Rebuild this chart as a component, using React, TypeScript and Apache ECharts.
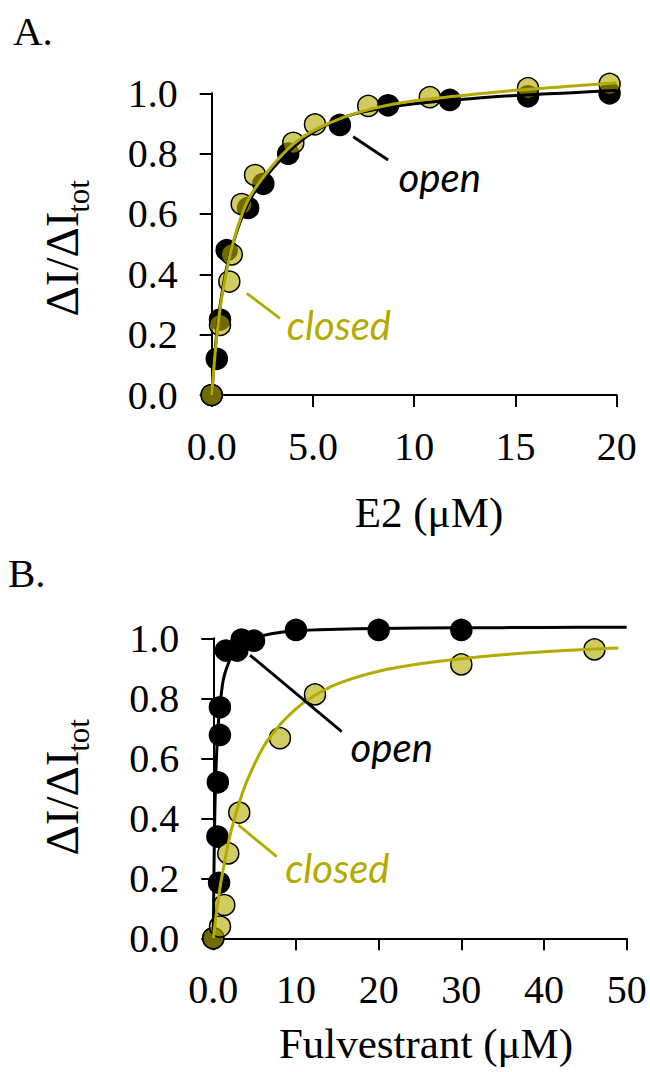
import React, { useEffect, useRef } from "react";
import * as echarts from "echarts";

// ---- Panel A: E2 ----
const e2OpenX = [0, 0.25, 0.41, 0.74, 1.8, 2.55, 3.78, 6.33, 8.71, 11.76, 15.62, 19.65];
const e2OpenY = [0, 0.12, 0.25, 0.48, 0.62, 0.7, 0.8, 0.895, 0.96, 0.978, 0.99, 1.0];
const e2ClosedX = [0, 0.41, 0.87, 0.99, 1.48, 2.14, 4.03, 5.1, 7.73, 10.77, 15.62, 19.65];
const e2ClosedY = [0, 0.232, 0.376, 0.466, 0.633, 0.729, 0.836, 0.897, 0.958, 0.987, 1.017, 1.031];
// fitted curves
const e2FitX = [0, 0.2, 0.4, 0.7, 1, 1.5, 2, 3, 4, 5, 6.5, 8, 10, 12, 15, 18, 20];
const e2OpenFitY = [0, 0.17, 0.29, 0.41, 0.49, 0.59, 0.66, 0.75, 0.82, 0.87, 0.92, 0.945, 0.965, 0.978, 0.993, 1.003, 1.01];
const e2ClosedFitY = [0, 0.16, 0.28, 0.4, 0.49, 0.6, 0.67, 0.76, 0.83, 0.875, 0.92, 0.95, 0.975, 0.99, 1.01, 1.025, 1.035];

// ---- Panel B: Fulvestrant ----
const fulOpenX = [0, 0.7, 0.5, 0.55, 0.8, 0.8, 1.53, 2.9, 3.43, 4.92, 10, 20, 30];
const fulOpenY = [0, 0.185, 0.339, 0.52, 0.678, 0.77, 0.959, 0.959, 0.996, 0.992, 1.028, 1.028, 1.028];
const fulClosedX = [0, 0.81, 1.33, 1.81, 3.14, 8.06, 12.3, 30, 46.1];
const fulClosedY = [0, 0.039, 0.111, 0.283, 0.419, 0.667, 0.813, 0.913, 0.963];
const fulOpenFitX = [0, 0.1, 0.2, 0.35, 0.5, 0.7, 0.9, 1.2, 1.6, 2.4, 3.5, 5, 7, 10, 15, 20, 30, 40, 50];
const fulOpenFitY = [0, 0.27, 0.44, 0.58, 0.67, 0.75, 0.8, 0.86, 0.9, 0.95, 0.98, 1.0, 1.015, 1.025, 1.03, 1.033, 1.035, 1.036, 1.037];
const fulClosedFitX = [0, 0.5, 1, 2, 3, 4, 6, 8, 10, 12, 15, 20, 25, 30, 35, 40, 45, 49];
const fulClosedFitY = [0, 0.11, 0.2, 0.34, 0.44, 0.52, 0.635, 0.71, 0.765, 0.805, 0.848, 0.89, 0.915, 0.932, 0.945, 0.955, 0.963, 0.968];

// ---- tick labels ----
const yTickLabels = ["0.0", "0.2", "0.4", "0.6", "0.8", "1.0"];
const xTickLabelsA = ["0.0", "5.0", "10", "15", "20"];
const xTickLabelsB = ["0.0", "10", "20", "30", "40", "50"];

// ---- annotations (data coordinates) ----
const annotations = [
  { grid: 0, text: "open", kind: "open", line: [[6.99, 0.856], [8.71, 0.779]], at: [11.26, 0.723] },
  { grid: 0, text: "closed", kind: "closed", line: [[1.73, 0.337], [3.37, 0.254]], at: [6.28, 0.232] },
  { grid: 1, text: "open", kind: "open", line: [[4.44, 0.944], [15.53, 0.689]], at: [21.58, 0.639] },
  { grid: 1, text: "closed", kind: "closed", line: [[3.02, 0.378], [7.67, 0.272]], at: [15.0, 0.234] },
];

const OLIVE = "#b3ab00";
const FILL = "rgba(180,172,0,0.62)";
const SERIF = "'Liberation Serif', 'Times New Roman', serif";

const zip = (xs: number[], ys: number[]) => xs.map((x, i) => [x, ys[i]]);

function axesFor(gridIndex: number, max: number, interval: number, labels: string[]) {
  const common = {
    gridIndex,
    axisLine: { show: true, lineStyle: { color: "#000", width: 2 } },
    axisTick: { show: true, inside: false, length: 12, lineStyle: { color: "#000", width: 2 } },
    splitLine: { show: false },
  };
  return {
    x: {
      ...common,
      type: "value",
      min: 0,
      max,
      interval,
      axisLabel: {
        margin: 31,
        fontFamily: SERIF,
        fontSize: 40,
        color: "#000",
        formatter: (v: number) => labels[Math.round(v / interval)] ?? "",
      },
    },
    y: {
      ...common,
      type: "value",
      min: 0,
      max: 1,
      interval: 0.2,
      axisLabel: {
        margin: 34,
        fontFamily: SERIF,
        fontSize: 40,
        color: "#000",
        formatter: (v: number) => yTickLabels[Math.round(v / 0.2)] ?? "",
      },
    },
  };
}

function seriesFor(idx: number, openFit: number[][], openPts: number[][], closedFit: number[][], closedPts: number[][]) {
  const line = (data: number[][], color: string) => ({
    type: "line",
    xAxisIndex: idx,
    yAxisIndex: idx,
    data,
    smooth: 0.3,
    showSymbol: false,
    symbol: "none",
    clip: false,
    lineStyle: { color, width: 3 },
    silent: true,
  });
  const pts = (data: number[][], fill: string) => ({
    type: "scatter",
    xAxisIndex: idx,
    yAxisIndex: idx,
    data,
    symbol: "circle",
    symbolSize: 21,
    clip: false,
    itemStyle: { color: fill, borderColor: "#000", borderWidth: 1.5, opacity: 1 },
  });
  return [line(openFit, "#000"), pts(openPts, "#000"), line(closedFit, OLIVE), pts(closedPts, FILL)];
}

export default function App() {
  const ref = useRef<HTMLDivElement>(null);
  useEffect(() => {
    if (!ref.current) return;
    const chart = echarts.init(ref.current, undefined, { renderer: "svg" });
    const a = axesFor(0, 20, 5, xTickLabelsA);
    const b = axesFor(1, 50, 10, xTickLabelsB);
    chart.setOption({
      animation: false,
      backgroundColor: "#fff",
      grid: [
        { left: 211.7, top: 93.3, width: 405, height: 301.7 },
        { left: 213.3, top: 638.3, width: 413.4, height: 300 },
      ],
      xAxis: [a.x, b.x],
      yAxis: [a.y, b.y],
      series: [
        ...seriesFor(0, zip(e2FitX, e2OpenFitY), zip(e2OpenX, e2OpenY), zip(e2FitX, e2ClosedFitY), zip(e2ClosedX, e2ClosedY)),
        ...seriesFor(
          1,
          zip(fulOpenFitX, fulOpenFitY),
          zip(fulOpenX, fulOpenY),
          zip(fulClosedFitX, fulClosedFitY),
          zip(fulClosedX, fulClosedY)
        ),
      ],
    });

    const elements: any[] = [];
    annotations.forEach((an) => {
      const color = an.kind === "open" ? "#000" : OLIVE;
      const p1 = chart.convertToPixel({ gridIndex: an.grid }, an.line[0]) as number[];
      const p2 = chart.convertToPixel({ gridIndex: an.grid }, an.line[1]) as number[];
      const pt = chart.convertToPixel({ gridIndex: an.grid }, an.at) as number[];
      elements.push({
        type: "line",
        shape: { x1: p1[0], y1: p1[1], x2: p2[0], y2: p2[1] },
        style: { stroke: color, lineWidth: 2.8 },
        z: 10,
      });
      elements.push({
        type: "text",
        x: pt[0],
        y: pt[1],
        style: {
          text: an.text,
          fill: color,
          font: "italic 40px Lato, 'Open Sans', sans-serif",
          textAlign: "center",
          textVerticalAlign: "middle",
        },
        z: 10,
      });
    });

    const titleFont = (size: number) => `${size}px ${SERIF}`;
    const panel = (label: string, lx: number, ly: number, off: number, xTitle: string, xtx: number, xty: number) => {
      elements.push({
        type: "text",
        x: lx,
        y: ly,
        style: { text: label, fill: "#000", font: titleFont(41), textAlign: "left", textVerticalAlign: "middle" },
      });
      elements.push({
        type: "text",
        x: 62,
        y: 264 + off,
        rotation: Math.PI / 2,
        style: { text: "ΔI/ΔI", fill: "#000", font: titleFont(47), textAlign: "center", textVerticalAlign: "middle" },
      });
      elements.push({
        type: "text",
        x: 78,
        y: 196.5 + off,
        rotation: Math.PI / 2,
        style: { text: "tot", fill: "#000", font: titleFont(31), textAlign: "center", textVerticalAlign: "middle" },
      });
      elements.push({
        type: "text",
        x: xtx,
        y: xty,
        style: { text: xTitle, fill: "#000", font: titleFont(43), textAlign: "center", textVerticalAlign: "middle" },
      });
    };
    panel("A.", 13, 31, 0, "E2 (μM)", 429, 512);
    panel("B.", 8, 573, 539, "Fulvestrant (μM)", 426, 1043);

    chart.setOption({ graphic: { elements } });
    return () => chart.dispose();
  }, []);
  return (
    <div
      ref={ref}
      style={{ position: "fixed", left: 0, top: 0, width: 650, height: 1072, background: "#fff" }}
    />
  );
}
